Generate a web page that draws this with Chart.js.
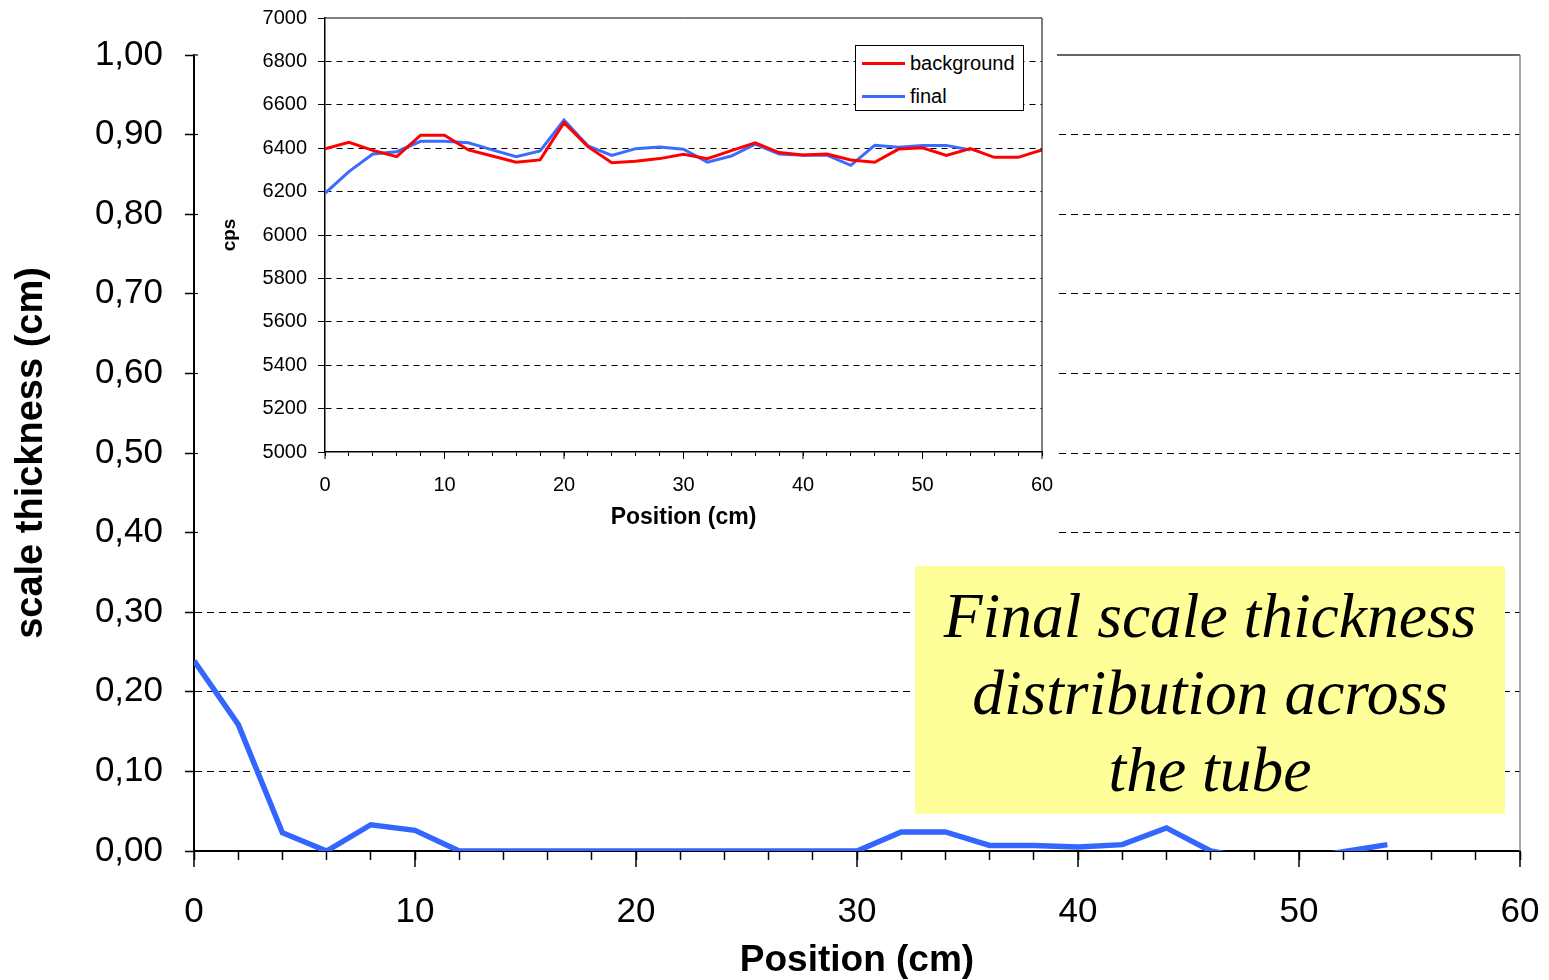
<!DOCTYPE html>
<html>
<head>
<meta charset="utf-8">
<script src="https://cdn.jsdelivr.net/npm/chart.js@4.4.1/dist/chart.umd.min.js"></script>
<style>
  body { margin: 0; background: #fff; }
  #page { position: relative; width: 1549px; height: 980px; overflow: hidden; font-family: 'Liberation Sans', Arial, sans-serif; }
  #main { position: absolute; left: 0; top: 0; }
  #insetBox { position: absolute; left: 198px; top: 0; width: 859px; height: 546px; background: #fff; }
  #legend { position: absolute; left: 855px; top: 45px; width: 167px; height: 64px; border: 1px solid #000; background: #fff; font-size: 20px; color: #000; }
  #legend .row { position: absolute; left: 0; height: 24px; line-height: 24px; }
  #legend .swatch { position: absolute; left: 6px; top: 11px; width: 43px; height: 3px; }
  #legend .name { position: absolute; left: 54px; top: 0; white-space: nowrap; }
  #note { position: absolute; left: 915px; top: 566px; width: 590px; height: 248px; box-sizing: border-box; padding-top: 11px;
          background: #ffff99; font-family: 'Liberation Serif', 'Times New Roman', serif; font-style: italic;
          font-size: 63.5px; line-height: 77px; text-align: center; color: #000; white-space: nowrap; }
</style>
</head>
<body>
<div id="page">
  <canvas id="main" width="1549" height="980"></canvas>
  <div id="insetBox"><canvas id="inset" width="859" height="546"></canvas></div>
  <div id="legend"></div>
  <div id="note">Final scale thickness<br>distribution across<br>the tube</div>
</div>
<script>
// main chart: scale thickness along the tube
const mainPos = [0, 2, 4, 6, 8, 10, 12, 14, 16, 18, 20, 22, 24, 26, 28, 30,
                 32, 34, 36, 38, 40, 42, 44, 46, 48, 50, 52, 54];
const mainThick = [0.239, 0.159, 0.023, 0.0, 0.033, 0.026, 0, 0, 0, 0, 0, 0, 0, 0, 0, 0,
                   0.024, 0.024, 0.007, 0.007, 0.005, 0.008, 0.029, 0, -0.01, -0.01, -0.001, 0.008];
const mainYLabels = ['0,00', '0,10', '0,20', '0,30', '0,40', '0,50', '0,60', '0,70', '0,80', '0,90', '1,00'];
const xLabelValues = [0, 10, 20, 30, 40, 50, 60];

// inset chart: count rates
const insetPos = [0, 2, 4, 6, 8, 10, 12, 14, 16, 18, 20, 22, 24, 26, 28, 30,
                  32, 34, 36, 38, 40, 42, 44, 46, 48, 50, 52, 54, 56, 58, 60];
const backgroundCps = [6397, 6427, 6390, 6361, 6460, 6460, 6392, 6364, 6335, 6346, 6518, 6407, 6333, 6340, 6352, 6372,
                       6352, 6389, 6425, 6380, 6369, 6373, 6346, 6335, 6396, 6402, 6367, 6398, 6358, 6358, 6392];
const finalCps = [6192, 6292, 6373, 6384, 6432, 6432, 6425, 6392, 6361, 6387, 6530, 6411, 6367, 6398, 6406, 6395,
                  6336, 6364, 6419, 6373, 6368, 6368, 6321, 6413, 6404, 6413, 6413, 6392];
const seriesNames = ['background', 'final'];
const seriesColors = ['#ff0000', '#3a6cff'];

Chart.defaults.font.family = "'Liberation Sans', Arial, sans-serif";
Chart.defaults.color = '#000';

function points(xs, ys) {
  return ys.map((y, i) => ({ x: xs[i], y }));
}

// x axis: fixed height, and no extra side padding from the end labels
function fitX(height) {
  return s => {
    s.height = height;
    s.paddingLeft = 0;
    s.paddingRight = 0;
  };
}

// y axis: fixed width, no extra padding from the end labels
function fitY(width) {
  return s => {
    s.width = width;
    s.paddingTop = 0;
    s.paddingBottom = 0;
  };
}

// top/right frame of the plot area and longer marks at labelled x ticks
const frame = {
  id: 'frame',
  afterDraw(chart, args, opts) {
    const { ctx, chartArea: a } = chart;
    const x = chart.scales.x;
    ctx.save();
    ctx.lineWidth = opts.width;
    ctx.strokeStyle = opts.topColor;
    ctx.beginPath(); ctx.moveTo(a.left, a.top); ctx.lineTo(a.right, a.top); ctx.stroke();
    ctx.strokeStyle = opts.rightColor;
    ctx.beginPath(); ctx.moveTo(a.right, a.top); ctx.lineTo(a.right, a.bottom); ctx.stroke();
    ctx.strokeStyle = '#000';
    ctx.lineWidth = opts.tickWidth;
    x.ticks.forEach(t => {
      if (!xLabelValues.includes(t.value)) return;
      const px = x.getPixelForValue(t.value);
      ctx.beginPath(); ctx.moveTo(px, a.bottom); ctx.lineTo(px, a.bottom + opts.majorLen); ctx.stroke();
    });
    ctx.restore();
  }
};

new Chart(document.getElementById('main'), {
  type: 'line',
  data: {
    datasets: [{
      data: points(mainPos, mainThick),
      borderColor: '#3366ff',
      borderWidth: 5.5,
      pointRadius: 0,
      clip: 0
    }]
  },
  plugins: [frame],
  options: {
    responsive: false,
    animation: false,
    layout: { padding: { left: 0, top: 55, right: 29, bottom: 0 } },
    plugins: {
      legend: { display: false },
      tooltip: { enabled: false },
      frame: { width: 1.5, topColor: '#333', rightColor: '#888', tickWidth: 1.5, majorLen: 16 }
    },
    scales: {
      x: {
        type: 'linear', min: 0, max: 60, z: 1,
        afterFit: fitX(129),
        ticks: {
          stepSize: 2, autoSkip: false, maxRotation: 0, padding: 31,
          font: { size: 35 },
          callback: v => xLabelValues.includes(v) ? String(v) : ''
        },
        grid: { drawOnChartArea: false, tickLength: 9, tickColor: '#000', tickWidth: 1.5 },
        border: { color: '#000', width: 2 },
        title: { display: true, text: 'Position (cm)', font: { size: 37, weight: 'bold' }, padding: { top: 0, bottom: -3 } }
      },
      y: {
        min: 0, max: 1, z: 1,
        afterFit: fitY(194),
        ticks: {
          stepSize: 0.1, padding: 22, font: { size: 35 },
          callback: (v, i) => mainYLabels[i]
        },
        grid: {
          color: c => (c.index === 0 || c.index === 10) ? 'rgba(0,0,0,0)' : '#000',
          lineWidth: 1, tickLength: 9, tickColor: '#000', tickWidth: 1.5
        },
        border: { color: '#000', width: 2, dash: [7, 5] },
        title: { display: true, text: 'scale thickness (cm)', font: { size: 38, weight: 'bold' }, padding: { top: 9, bottom: 0 } }
      }
    }
  }
});

new Chart(document.getElementById('inset'), {
  type: 'line',
  data: {
    datasets: [
      { label: seriesNames[0], data: points(insetPos, backgroundCps), borderColor: seriesColors[0], borderWidth: 3, pointRadius: 0 },
      { label: seriesNames[1], data: points(insetPos, finalCps), borderColor: seriesColors[1], borderWidth: 3, pointRadius: 0 }
    ]
  },
  plugins: [frame],
  options: {
    responsive: false,
    animation: false,
    layout: { padding: { left: 0, top: 18, right: 15, bottom: 0 } },
    plugins: {
      legend: { display: false },
      tooltip: { enabled: false },
      frame: { width: 1, topColor: '#000', rightColor: '#000', tickWidth: 1, majorLen: 7 }
    },
    scales: {
      x: {
        type: 'linear', min: 0, max: 60,
        afterFit: fitX(94),
        ticks: {
          stepSize: 2, autoSkip: false, maxRotation: 0, padding: 17,
          font: { size: 20 },
          callback: v => xLabelValues.includes(v) ? String(v) : ''
        },
        grid: { drawOnChartArea: false, tickLength: 4, tickColor: '#000', tickWidth: 1 },
        border: { color: '#000', width: 1.5 },
        title: { display: true, text: 'Position (cm)', font: { size: 23, weight: 'bold' }, padding: { top: 0, bottom: 15 } }
      },
      y: {
        min: 5000, max: 7000,
        afterFit: fitY(127),
        ticks: { stepSize: 200, padding: 11, font: { size: 20 }, callback: v => String(v) },
        grid: {
          color: c => (c.index === 0 || c.index === 10) ? 'rgba(0,0,0,0)' : '#000',
          lineWidth: 1, tickLength: 7, tickColor: '#000', tickWidth: 1
        },
        border: { color: '#000', width: 1.5, dash: [6, 5] },
        title: { display: true, text: 'cps', font: { size: 19, weight: 'bold' }, padding: { top: 20, bottom: 0 } }
      }
    }
  }
});

// legend box of the inset
const legend = document.getElementById('legend');
seriesNames.forEach((name, i) => {
  const row = document.createElement('div');
  row.className = 'row';
  row.style.top = (5 + i * 33) + 'px';
  row.innerHTML = '<div class="swatch" style="background:' + seriesColors[i] + '"></div><span class="name">' + name + '</span>';
  legend.appendChild(row);
});
</script>
</body>
</html>
